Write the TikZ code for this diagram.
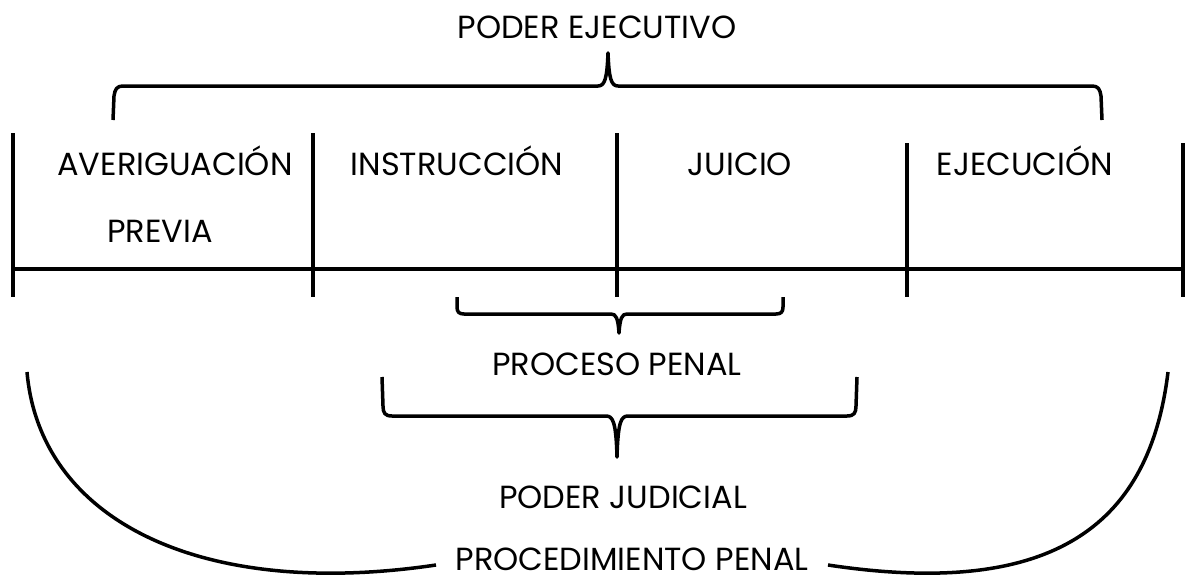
\documentclass[tikz,border=0pt]{standalone}
\usepackage{fontspec}
\setmainfont{Poppins}
\begin{document}
\begin{tikzpicture}[x=1pt,y=-1pt,
  lbl/.style={anchor=base,inner sep=0pt,font=\fontsize{32}{36}\selectfont},
  ln/.style={line width=3.5pt,line cap=butt},
  br/.style={line width=3.5pt,line join=round}]
\useasboundingbox (0,0) rectangle (1188,578);
% texts
\node[lbl] (ejec) at (597,39) {PODER EJECUTIVO};
\node[lbl] (aver) at (175,175) {AVERIGUACIÓN};
\node[lbl] (prev) at (160,242) {PREVIA};
\node[lbl] (inst) at (457,175) {INSTRUCCIÓN};
\node[lbl] (juic) at (740,175) {JUICIO};
\node[lbl] (ejcn) at (1025,175) {EJECUCIÓN};
\node[lbl] (proc) at (617,375) {PROCESO PENAL};
\node[lbl] (judi) at (623,508) {PODER JUDICIAL};
\node[lbl] (pden) at (632,570) {PROCEDIMIENTO PENAL};
% timeline
\draw[ln] (13,269) -- (1184,269);
\draw[ln] (13,133) -- (13,297);
\draw[ln] (313,133) -- (313,297);
\draw[ln] (617,133) -- (617,297);
\draw[ln] (907,143) -- (907,297);
\draw[ln] (1183,143) -- (1183,297);
% top brace (Poder Ejecutivo)
\draw[br] (113,120) -- (114,96) .. controls (115,89) and (117,86) .. (123,86)
  -- (598,86) .. controls (605,86) and (607,78) .. (608,53)
  .. controls (609,78) and (611,86) .. (618,86)
  -- (1092,86) .. controls (1098,86) and (1100,89) .. (1101,96) -- (1102,120);
% proceso penal brace
\draw[br] (457,297) -- (457,307) .. controls (457,312) and (459,314) .. (464,314)
  -- (611,314) .. controls (616,314) and (618,318) .. (619,333)
  .. controls (620,318) and (622,314) .. (627,314)
  -- (776,314) .. controls (781,314) and (783,312) .. (783,307) -- (783,297);
% poder judicial brace
\draw[br] (382,377) -- (383,406) .. controls (383,413) and (385,416) .. (392,416)
  -- (606,416) .. controls (613,416) and (616,422) .. (617,457)
  .. controls (618,422) and (621,416) .. (628,416)
  -- (847,416) .. controls (854,416) and (856,413) .. (856,406) -- (857,377);
% procedimiento penal arc
\draw[br] (27,372) .. controls (40,520) and (200,600) .. (436,565);
\draw[br] (828,565) .. controls (1060,600) and (1150,520) .. (1168,372);
\end{tikzpicture}
\end{document}
